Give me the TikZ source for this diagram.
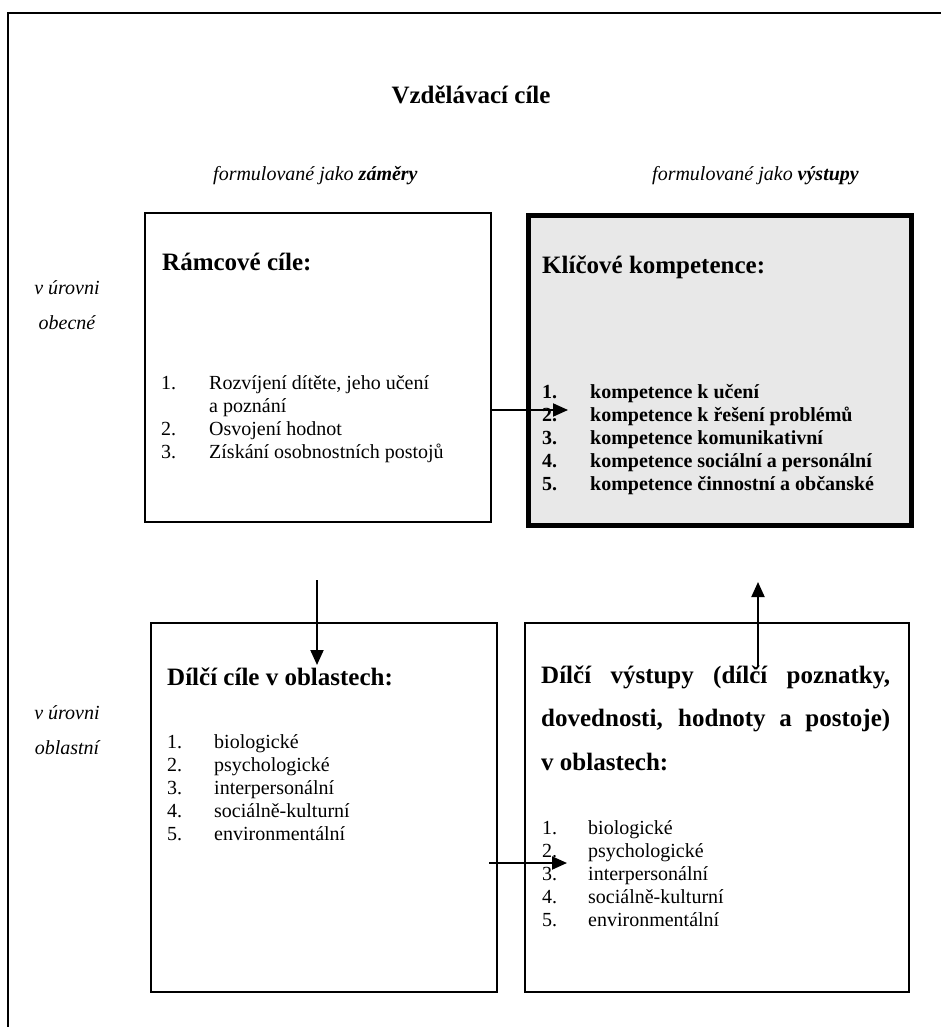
\documentclass[tikz,border=0pt]{standalone}
\usepackage{fontspec}
\setmainfont{Liberation Serif}
\usetikzlibrary{arrows.meta}
\definecolor{keygray}{HTML}{E8E8E8}
\begin{document}
\begin{tikzpicture}[x=1pt,y=-1pt,
  frame/.style={draw=black,line width=2pt},
  box/.style={draw=black,line width=2pt,anchor=north west,inner sep=0pt},
  keybox/.style={draw=black,line width=5pt,fill=keygray,anchor=north west,inner sep=0pt},
  head/.style={anchor=base west,inner sep=0pt,font=\fontsize{25}{30}\selectfont\bfseries},
  item/.style={anchor=base west,inner sep=0pt,font=\fontsize{20}{23}\selectfont},
  bitem/.style={anchor=base west,inner sep=0pt,font=\fontsize{20}{23}\selectfont\bfseries},
  side/.style={inner sep=0pt,anchor=base,font=\fontsize{20}{23}\selectfont\itshape},
  sub/.style={anchor=base west,inner sep=0pt,font=\fontsize{20}{23}\selectfont},
  arr/.style={line width=2pt,-{Triangle[length=15pt,width=13pt]}}]
\useasboundingbox (0,0) rectangle (940,1027);
% outer frame (open to the right and bottom)
\coordinate (ftr) at (941,13);
\coordinate (ftl) at (8,13);
\coordinate (fbl) at (8,1028);
\draw[frame] (ftr) -- (ftl) -- (fbl);
% title and column captions
\node[head,anchor=base] (title) at (471,104) {Vzdělávací cíle};
\node[sub] (capl) at (213,181) {\itshape formulované jako \bfseries záměry};
\node[sub] (capr) at (652,181) {\itshape formulované jako \bfseries výstupy};
% side labels
\node[side] (s1a) at (67,294) {v úrovni};
\node[side] (s1b) at (67,329) {obecné};
\node[side] (s2a) at (67,719) {v úrovni};
\node[side] (s2b) at (67,754) {oblastní};
% boxes
\node[box,minimum width=346pt,minimum height=309pt] (b1) at (144,212) {};
\node[keybox,minimum width=383pt,minimum height=310pt] (b2) at (525.5,212.5) {};
\node[box,minimum width=346pt,minimum height=369pt] (b3) at (150,622) {};
\node[box,minimum width=384pt,minimum height=369pt] (b4) at (524,622) {};
% box 1
\node[head] (h1) at (162,270) {Rámcové cíle:};
\node[item] (n11) at (161,389) {1.};
\node[item] (t11) at (209,389) {Rozvíjení dítěte, jeho učení};
\node[item] (t11b) at (209,412) {a poznání};
\node[item] (n12) at (161,435) {2.};
\node[item] (t12) at (209,435) {Osvojení hodnot};
\node[item] (n13) at (161,458) {3.};
\node[item] (t13) at (209,458) {Získání osobnostních postojů};
% box 2
\node[head] (h2) at (542,273) {Klíčové kompetence:};
\foreach \i/\t in {1/kompetence k učení,2/kompetence k řešení problémů,3/kompetence komunikativní,4/kompetence sociální a personální,5/kompetence činnostní a občanské}{
  \node[bitem] (n2\i) at (542,375+23*\i) {\i.};
  \node[bitem] (t2\i) at (590,375+23*\i) {\t};
}
% box 3
\node[head] (h3) at (167,685) {Dílčí cíle v oblastech:};
\foreach \i/\t in {1/biologické,2/psychologické,3/interpersonální,4/sociálně-kulturní,5/environmentální}{
  \node[item] (n3\i) at (167,725+23*\i) {\i.};
  \node[item] (t3\i) at (214,725+23*\i) {\t};
}
% box 4
\node[head] (h4a) at (541,683) {\makebox[349pt][s]{Dílčí výstupy (dílčí poznatky,}};
\node[head] (h4b) at (541,726) {\makebox[349pt][s]{dovednosti, hodnoty a postoje)}};
\node[head] (h4c) at (541,770) {v oblastech:};
\foreach \i/\t in {1/biologické,2/psychologické,3/interpersonální,4/sociálně-kulturní,5/environmentální}{
  \node[item] (n4\i) at (542,811+23*\i) {\i.};
  \node[item] (t4\i) at (588,811+23*\i) {\t};
}
% connectors
\coordinate (k1) at (568,410);
\draw[arr] (b1.east |- k1) -- (k1);
\coordinate (d1) at (317,580);
\coordinate (d2) at (317,665);
\draw[arr] (d1) -- (d2);
\coordinate (r1) at (489,863);
\coordinate (r2) at (567,863);
\draw[arr] (r1) -- (r2);
\coordinate (u1) at (758,667);
\coordinate (u2) at (758,582);
\draw[arr] (u1) -- (u2);
\end{tikzpicture}
\end{document}
